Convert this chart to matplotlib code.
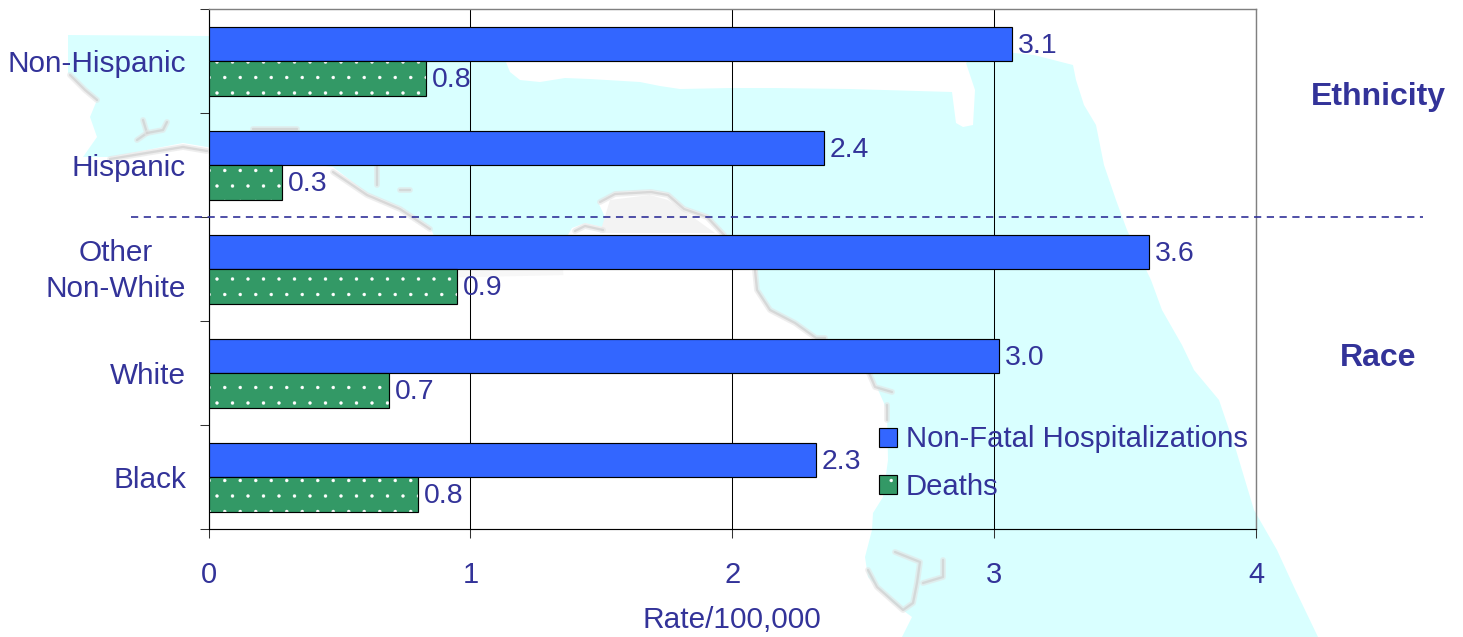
import matplotlib
matplotlib.use('Agg')
import matplotlib.pyplot as plt
from matplotlib.lines import Line2D
from matplotlib.patches import Patch, Polygon
from matplotlib.legend_handler import HandlerTuple
from matplotlib.transforms import Affine2D, ScaledTranslation
import numpy as np

# the chart values
categories = ['Non-Hispanic', 'Hispanic', 'Other\nNon-White', 'White', 'Black']
hospitalizations = [3.07, 2.35, 3.59, 3.02, 2.32]
deaths = [0.83, 0.28, 0.95, 0.69, 0.80]
hosp_labels = ['3.1', '2.4', '3.6', '3.0', '2.3']
death_labels = ['0.8', '0.3', '0.9', '0.7', '0.8']
x_ticks = [0, 1, 2, 3, 4]

W, H = 1463, 637
DPI = 93
TEXT = '#333399'
BLUE = '#3366FF'
GREEN = '#339966'
CYAN = '#D9FFFF'
FS = 23

plt.rcParams['font.family'] = ['Liberation Sans', 'DejaVu Sans']
plt.rcParams['hatch.linewidth'] = 0.2

fig = plt.figure(figsize=(W / DPI, H / DPI), dpi=DPI)

# pixel coordinates of the reference, origin top left
px = Affine2D().scale(1 / W, -1 / H).translate(0, 1) + fig.transFigure

# background map of Florida
florida = [
    (68, 35), (208, 36), (300, 45), (506, 50), (506, 62), (510, 72), (520, 80), (540, 82), (565, 78),
    (590, 79), (640, 82), (660, 86), (680, 89), (730, 88), (775, 88), (850, 89), (952, 92), (956, 123),
    (963, 127), (973, 125), (975, 90), (966, 63), (985, 50), (1034, 55), (1073, 65), (1076, 80),
    (1084, 105), (1096, 125), (1104, 165), (1116, 200), (1127, 230), (1151, 280), (1162, 310),
    (1182, 345), (1194, 370), (1219, 400), (1236, 450), (1254, 510), (1277, 550), (1294, 587),
    (1318, 637), (902, 637), (912, 617), (893, 603), (868, 577), (865, 557), (872, 530), (873, 513),
    (883, 497), (888, 460), (887, 410), (875, 383), (869, 373), (816, 338), (795, 323), (770, 310),
    (757, 290), (757, 270), (740, 250), (724, 233), (707, 215), (684, 207), (668, 193), (651, 190),
    (615, 192), (598, 202), (605, 217), (603, 227), (585, 223), (572, 228), (565, 240), (436, 240),
    (430, 227), (400, 207), (367, 193), (333, 167), (280, 160), (207, 147), (183, 143), (110, 157),
    (83, 157), (97, 137), (90, 117), (97, 100), (68, 73),
]
fig.add_artist(Polygon(florida, closed=True, facecolor=CYAN, edgecolor='none', transform=px, zorder=-2))

# grey shadow along the coast, wide and faint under narrow and stronger
coast_lines = [
    [(70, 75), (85, 90), (97, 100)],
    [(143, 120), (147, 133), (137, 140)],
    [(147, 133), (163, 130), (167, 122)],
    [(253, 129), (297, 129)],
    [(110, 159), (183, 147), (207, 151)],
    [(333, 172), (367, 195), (400, 209), (430, 229)],
    [(377, 167), (377, 185)],
    [(400, 190), (410, 190)],
    [(575, 231), (585, 226), (603, 230)],
    [(724, 235), (707, 217), (684, 209), (668, 195), (651, 192), (615, 194), (600, 202)],
    [(755, 270), (757, 290), (770, 310), (795, 323), (816, 338), (825, 338)],
    [(869, 373), (875, 387), (892, 392)],
    [(887, 405), (887, 420)],
    [(895, 552), (920, 562), (917, 583), (913, 603), (903, 610), (877, 587), (868, 570)],
    [(923, 583), (943, 577), (943, 560)],
]
for line in coast_lines:
    xs, ys = zip(*line)
    fig.add_artist(Line2D(xs, ys, color='#e4e4e4', lw=4.5, alpha=0.6, transform=px, zorder=-1,
                          solid_capstyle='round'))
    fig.add_artist(Line2D(xs, ys, color='#cfcfcf', lw=1.8, alpha=0.7, transform=px, zorder=-1,
                          solid_capstyle='round'))
# soft white inside the small bay
fig.add_artist(Polygon([(610, 200), (650, 195), (668, 200), (690, 215), (715, 233), (600, 233)], closed=True,
                       facecolor='#f3f3f3', edgecolor='none', transform=px, zorder=-1.5))
fig.add_artist(Line2D([462, 560], [274, 272], color='#f7f7f7', lw=5, transform=px, zorder=-1))

ax = fig.add_axes([208.5 / W, 1 - 529.2 / H, (1256 - 208.5) / W, (529.2 - 9.2) / H])
ax.patch.set_alpha(0)

y = np.arange(len(categories))
bar_h = 0.332

ax.barh(y - bar_h / 2, hospitalizations, bar_h, color=BLUE, edgecolor='black', linewidth=0.9, zorder=3)
# the dots need a white hatch, so the outline comes from a second call
ax.barh(y + bar_h / 2, deaths, bar_h, color=GREEN, edgecolor='white', linewidth=0, hatch='.', zorder=3)
ax.barh(y + bar_h / 2, deaths, bar_h, fill=False, edgecolor='black', linewidth=0.9, zorder=3)

for i in range(len(categories)):
    ax.annotate(hosp_labels[i], (hospitalizations[i], y[i] - bar_h / 2), xytext=(4.5, -1.5),
                textcoords='offset points', va='center', ha='left', color=TEXT, fontsize=22, zorder=4)
    ax.annotate(death_labels[i], (deaths[i], y[i] + bar_h / 2), xytext=(4.5, -1.5),
                textcoords='offset points', va='center', ha='left', color=TEXT, fontsize=22, zorder=4)

ax.set_xlim(0, 4)
ax.set_ylim(len(categories) - 0.5, -0.5)
ax.set_xticks(x_ticks)
ax.set_xticklabels([str(t) for t in x_ticks], color=TEXT, fontsize=22.5)
ax.tick_params(axis='x', length=7, width=0.8, color='#333333', pad=18)
ax.xaxis.grid(True, color='black', lw=0.8, zorder=1)
ax.set_axisbelow(True)

ax.set_yticks(y)
labels = ax.set_yticklabels(categories, color=TEXT, fontsize=FS, multialignment='center', linespacing=1.36)
ax.set_yticks(np.arange(len(categories) + 1) - 0.5, minor=True)
ax.tick_params(axis='y', which='major', length=0, pad=17.5)
ax.tick_params(axis='y', which='minor', length=7, width=0.8, color='#333333')

# the two line label sits a little higher in the reference
labels[2].set_transform(labels[2].get_transform() + ScaledTranslation(0, 5 / DPI, fig.dpi_scale_trans))

ax.set_xlabel('Rate/100,000', color=TEXT, fontsize=FS, labelpad=12.5)

for side in ['top', 'right']:
    ax.spines[side].set_color('#808080')
    ax.spines[side].set_linewidth(1.1)
for side in ['left', 'bottom']:
    ax.spines[side].set_color('black')
    ax.spines[side].set_linewidth(0.9)

# divider between ethnicity and race
fig.add_artist(Line2D([131, 1423], [216.5, 216.5], color=TEXT, lw=1.3, transform=px, zorder=5,
                      linestyle=(0, (4.3, 3.3)), dash_capstyle='butt'))

fig.text(1378, 97, 'Ethnicity', transform=px, color=TEXT, fontsize=24.8, fontweight='bold', ha='center', va='center')
fig.text(1378, 358, 'Race', transform=px, color=TEXT, fontsize=24.8, fontweight='bold', ha='center', va='center')

handles = [
    Patch(facecolor=BLUE, edgecolor='black', linewidth=0.9),
    (Patch(facecolor=GREEN, edgecolor='white', linewidth=0, hatch='.'),
     Patch(fill=False, edgecolor='black', linewidth=0.9)),
]
ax.legend(handles, ['Non-Fatal Hospitalizations', 'Deaths'], handler_map={tuple: HandlerTuple(ndivide=1, pad=0)},
          loc='center left', bbox_to_anchor=(870 / W, 1 - 463 / H), bbox_transform=fig.transFigure, frameon=False,
          fontsize=22.7, labelcolor=TEXT, handlelength=0.62, handleheight=0.62, handletextpad=0.3,
          labelspacing=0.65, borderpad=0.3, borderaxespad=0)

fig.savefig('out.png', dpi=DPI)
